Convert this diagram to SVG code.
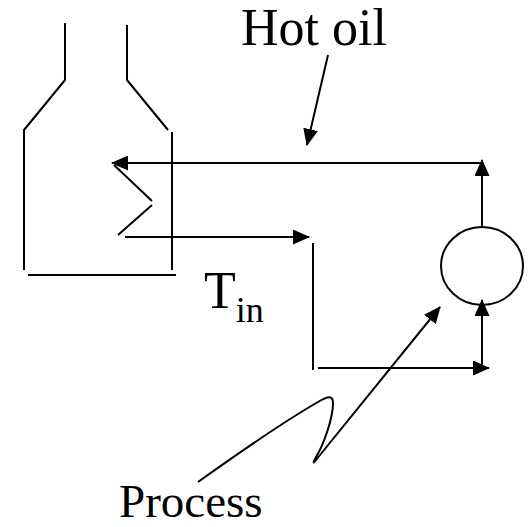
<svg xmlns="http://www.w3.org/2000/svg" width="531" height="527" viewBox="0 0 531 527">
<style>
.ln{fill:none;stroke:#000;stroke-width:2;stroke-linecap:butt;stroke-linejoin:round}
.t{font-family:"Liberation Serif","Times New Roman",serif;fill:#000}
</style>
<defs>
<marker id="ah" markerUnits="userSpaceOnUse" markerWidth="17" markerHeight="15" viewBox="0 0 17 15" refX="16" refY="7.5" orient="auto">
<path d="M0,0 L17,7.5 L0,15 Z" fill="#000"/>
</marker>
</defs>
<rect width="531" height="527" fill="#fff"/>
<g id="furnace">
<path class="ln" d="M65,23 V80 L24,130 V270"/>
<path class="ln" d="M127,25 V80 L168,130"/>
<path class="ln" d="M172,132 V270"/>
<path class="ln" d="M28,275 H176"/>
<path class="ln" d="M114,165 L152,201 M152,205 L118,235"/>
</g>
<g id="pump">
<ellipse cx="482" cy="266" rx="41" ry="39" fill="#fff" stroke="#000" stroke-width="2"/>
</g>
<g id="labels">
<text id="hotoil" class="t" x="241" y="45" font-size="52">Hot oil</text>
<text id="tin" class="t" x="204" y="308" font-size="52">T<tspan font-size="36" dy="14">in</tspan></text>
<text id="process" class="t" x="119" y="517" font-size="47">Process</text>
</g>
<g id="connectors">
<path class="ln" d="M482,163 H112" marker-end="url(#ah)"/>
<path class="ln" d="M482,227 V160" marker-end="url(#ah)"/>
<path class="ln" d="M125,237 H309" marker-end="url(#ah)"/>
<path class="ln" d="M313,243 V370"/>
<path class="ln" d="M318,368 H489" marker-end="url(#ah)"/>
<path class="ln" d="M482,368 V300" marker-end="url(#ah)"/>
<path class="ln" d="M328,55 L307,145" marker-end="url(#ah)"/>
<path class="ln" d="M198,482 C240,452 290,418 318,402 C328,396 333,395 333,403 C333,418 324,444 316,457 C312,465 313,464 320,455 L440,307" marker-end="url(#ah)"/>
</g>
</svg>
